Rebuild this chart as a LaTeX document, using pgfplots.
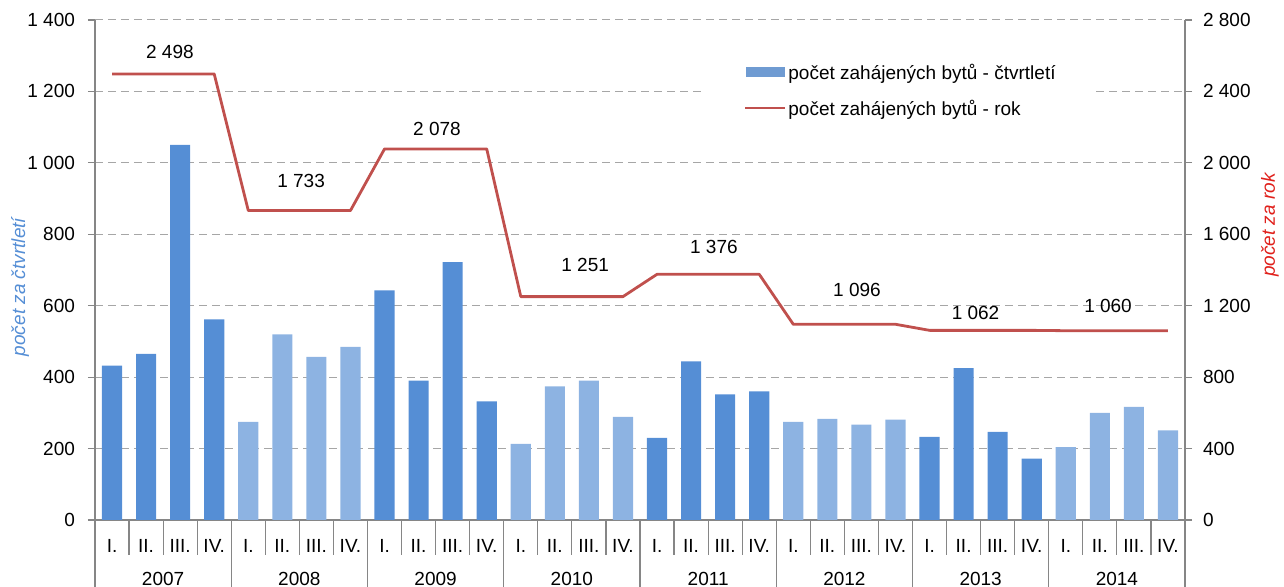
\documentclass[border=0pt]{standalone}
\usepackage{fontspec}
\setmainfont{Liberation Sans}
\usepackage{pgfplots}
\pgfplotsset{compat=1.18}

\definecolor{qdark}{HTML}{558ED5}
\definecolor{qlight}{HTML}{8DB3E2}
\definecolor{qlegend}{HTML}{6F9BD2}
\definecolor{yred}{HTML}{C0504D}
\definecolor{axgray}{HTML}{868686}
\definecolor{gridgray}{HTML}{A6A6A6}
\definecolor{lblblue}{HTML}{558ED5}
\definecolor{lblred}{HTML}{E0201B}

\newcommand\cf{\fontsize{9.5}{11}\selectfont}

\pgfplotsset{
  base/.style={
    scale only axis, width=545pt, height=250pt,
    xmin=-0.5, xmax=31.5, clip=false,
    axis line style={draw=axgray, line width=0.75pt, -},
    tick style={draw=axgray, line width=0.6pt},
    major tick length=3.5pt, tick align=outside,
    tick label style={font=\cf},
    /pgf/number format/.cd, 1000 sep={\ }, assume math mode=true,
  },
}

\begin{document}
\begin{tikzpicture}
% ---- quarterly bars (left axis)
\begin{axis}[base,
  ymin=0, ymax=1400, ytick={0,200,...,1400},
  axis y line*=left, axis x line*=bottom,
  ymajorgrids, grid style={draw=gridgray, line width=0.5pt, dash pattern=on 4pt off 2.5pt},
  xtick={0,...,31},
  xticklabels={I.,II.,III.,IV.,I.,II.,III.,IV.,I.,II.,III.,IV.,I.,II.,III.,IV.,
               I.,II.,III.,IV.,I.,II.,III.,IV.,I.,II.,III.,IV.,I.,II.,III.,IV.},
  x tick style={draw=none},
  xticklabel style={anchor=base, yshift=-13pt},
  yticklabel style={xshift=-3pt},
]
\addplot[ybar, bar width=0.59, bar shift=0pt, fill=qdark, draw=none] coordinates {
  (0,432) (1,465) (2,1050) (3,562)
  (8,643) (9,390) (10,722) (11,332)
  (16,230) (17,444) (18,352) (19,360)
  (24,233) (25,425) (26,247) (27,172)
};
\addplot[ybar, bar width=0.59, bar shift=0pt, fill=qlight, draw=none] coordinates {
  (4,275) (5,520) (6,457) (7,485)
  (12,213) (13,374) (14,390) (15,289)
  (20,275) (21,283) (22,267) (23,281)
  (28,204) (29,300) (30,317) (31,251)
};
% separators of the category axis
\pgfplotsinvokeforeach{-0.5,0.5,...,31.5}{
  \draw[axgray, line width=0.6pt] (axis cs:#1,0) -- ++(0pt,-17.5pt);
}
\pgfplotsinvokeforeach{-0.5,3.5,...,31.5}{
  \draw[axgray, line width=0.6pt] (axis cs:#1,0) -- ++(0pt,-34pt);
}
\pgfplotsinvokeforeach{2007,2008,...,2014}{
  \node[anchor=base, font=\cf, yshift=-33pt]
    at (axis cs:{(#1-2007)*4+1.5},0) {#1};
}
\end{axis}
% ---- yearly totals (right axis)
\begin{axis}[base,
  ymin=0, ymax=2800, ytick={0,400,...,2800},
  axis y line*=right, axis x line=none,
  yticklabel style={xshift=2pt, anchor=west},
]
\addplot[yred, line width=1.4pt, line join=round] coordinates {
  (0,2498) (1,2498) (2,2498) (3,2498)
  (4,1733) (5,1733) (6,1733) (7,1733)
  (8,2078) (9,2078) (10,2078) (11,2078)
  (12,1251) (13,1251) (14,1251) (15,1251)
  (16,1376) (17,1376) (18,1376) (19,1376)
  (20,1096) (21,1096) (22,1096) (23,1096)
  (24,1062) (25,1062) (26,1062) (27,1062)
  (28,1060) (29,1060) (30,1060) (31,1060)
};
\begin{scope}[every node/.style={font=\cf}]
\node at (axis cs:1.70,2621) {2 498};
\node at (axis cs:5.55,1898) {1 733};
\node at (axis cs:9.54,2190) {2 078};
\node at (axis cs:13.89,1428) {1 251};
\node at (axis cs:17.67,1529) {1 376};
\node at (axis cs:21.87,1288) {1 096};
\node at (axis cs:25.35,1159) {1 062};
\node at (axis cs:29.24,1198) {1 060};
\end{scope}
\end{axis}
% ---- legend
\fill[white] (304pt,200pt) rectangle (499pt,232.5pt);
\fill[qlegend] (325.5pt,221.5pt) rectangle (345pt,226.5pt);
\draw[yred, line width=1.4pt] (325pt,206pt) -- (345pt,206pt);
\node[anchor=base west, inner sep=0pt, font=\cf] at (346.5pt,220pt) {počet zahájených bytů - čtvrtletí};
\node[anchor=base west, inner sep=0pt, font=\cf] at (346.5pt,202pt) {počet zahájených bytů - rok};
% ---- axis titles
\node[rotate=90, text=lblblue, font=\itshape\cf] at (-37.5pt,116.5pt) {počet za čtvrtletí};
\node[rotate=90, text=lblred, font=\itshape\cf] at (587.5pt,147.5pt) {počet za rok};
\pgfresetboundingbox
\path[use as bounding box] (-47.5pt,-33.5pt) rectangle (594.5pt,260pt);
\end{tikzpicture}
\end{document}
